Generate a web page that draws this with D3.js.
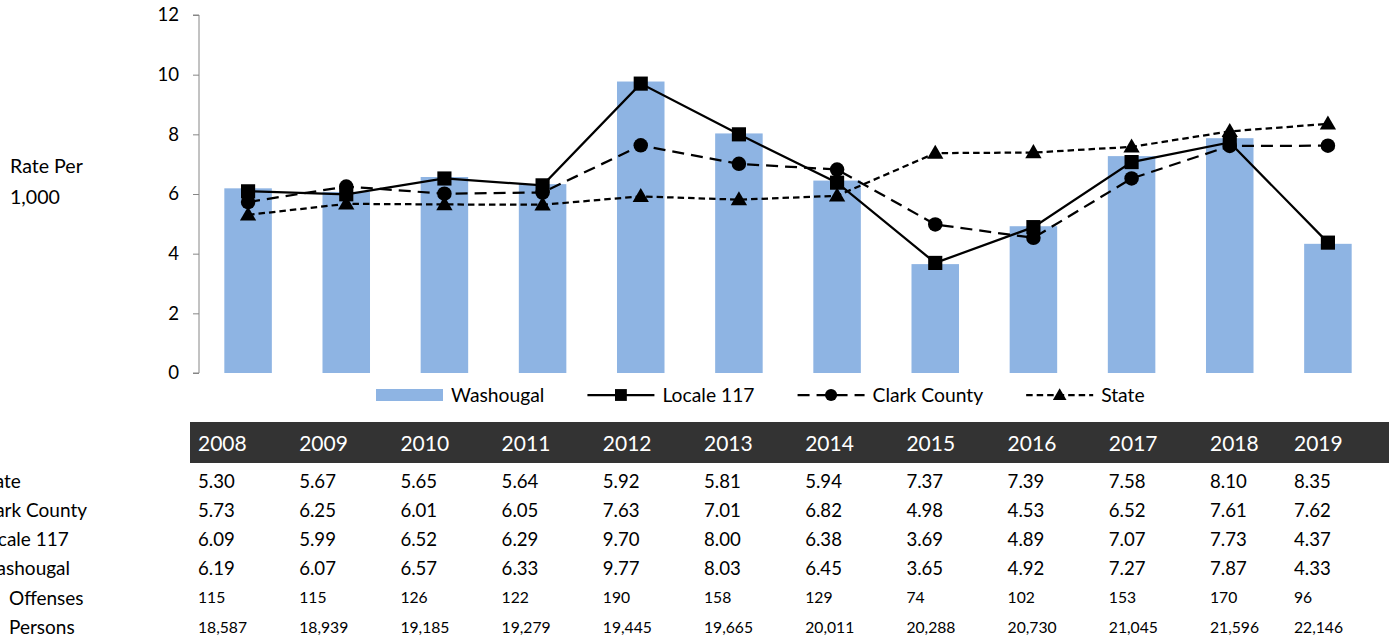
<!DOCTYPE html>
<html>
<head>
<meta charset="utf-8">
<script src="https://cdn.jsdelivr.net/npm/d3@7"></script>
<style>
  html, body { margin: 0; padding: 0; background: #fff; }
  svg { display: block; font-family: Lato, "Open Sans", sans-serif; }
</style>
</head>
<body>
<svg id="chart" width="1395" height="641"></svg>
<script>
// Rates per 1,000 persons, 2008-2019
const years = ["2008","2009","2010","2011","2012","2013","2014","2015","2016","2017","2018","2019"];
const washougal = [6.19, 6.07, 6.57, 6.33, 9.77, 8.03, 6.45, 3.65, 4.92, 7.27, 7.87, 4.33];
const locale117 = [6.09, 5.99, 6.52, 6.29, 9.70, 8.00, 6.38, 3.69, 4.89, 7.07, 7.73, 4.37];
const clarkCounty = [5.73, 6.25, 6.01, 6.05, 7.63, 7.01, 6.82, 4.98, 4.53, 6.52, 7.61, 7.62];
const state = [5.30, 5.67, 5.65, 5.64, 5.92, 5.81, 5.94, 7.37, 7.39, 7.58, 8.10, 8.35];
const offenses = [115, 115, 126, 122, 190, 158, 129, 74, 102, 153, 170, 96];
const persons = [18587, 18939, 19185, 19279, 19445, 19665, 20011, 20288, 20730, 21045, 21596, 22146];
const yTicks = [0, 2, 4, 6, 8, 10, 12];

const svg = d3.select("#chart");
const BAR = "#8eb4e3";
const INK = "#000";

const x = d3.scaleBand().domain(years).range([199, 1377]).paddingInner(0.516).paddingOuter(0.258);
const y = d3.scaleLinear().domain([0, 12]).range([373, 15]);

// value axis
const yAxis = svg.append("g")
  .attr("transform", "translate(199,0)")
  .call(d3.axisLeft(y).tickValues(yTicks).tickSize(6).tickPadding(14).tickFormat(d3.format("d")));
yAxis.select(".domain").attr("stroke", "#868686").attr("d", `M-6,${y(12)}H0V${y(0)}H-6`);
yAxis.selectAll(".tick line").attr("stroke", "#868686");
yAxis.selectAll(".tick text").attr("font-size", 18.6).attr("fill", "#000").attr("font-family", "Lato");

// axis title
const title = svg.append("text").attr("x", 10).attr("font-size", 19.6).attr("fill", "#000");
title.append("tspan").attr("x", 10).attr("y", 173).text("Rate Per");
title.append("tspan").attr("x", 10).attr("y", 204).text("1,000");

// Washougal bars
svg.append("g").selectAll("rect").data(washougal).join("rect")
  .attr("x", (d, i) => x(years[i]))
  .attr("y", d => y(d))
  .attr("width", x.bandwidth())
  .attr("height", d => y(0) - y(d))
  .attr("fill", BAR);

// line series
const series = [
  { name: "Locale 117", values: locale117, dash: null, marker: d3.symbolSquare, size: 200 },
  { name: "Clark County", values: clarkCounty, dash: "12,7", marker: d3.symbolCircle, size: 165 },
  { name: "State", values: state, dash: "6.5,4", marker: d3.symbolTriangle, size: 115 }
];
const line = d3.line().x((d, i) => x(years[i]) + x.bandwidth() / 2).y(d => y(d));

series.forEach(s => {
  const g = svg.append("g");
  g.append("path").datum(s.values)
    .attr("d", line)
    .attr("fill", "none")
    .attr("stroke", INK)
    .attr("stroke-width", 2.25)
    .attr("stroke-dasharray", s.dash);
  g.selectAll("path.m").data(s.values).join("path").attr("class", "m")
    .attr("transform", (d, i) => `translate(${x(years[i]) + x.bandwidth() / 2},${y(d) + (s.marker === d3.symbolTriangle ? 1 : 0)})`)
    .attr("d", d3.symbol(s.marker, s.size))
    .attr("fill", INK);
});

// legend
const legend = svg.append("g");
let lx = 376;
const ly = 395;
const legendItems = [{ name: "Washougal", bar: true }].concat(series);
legendItems.forEach(it => {
  const g = legend.append("g");
  if (it.bar) {
    g.append("rect").attr("x", lx).attr("y", ly - 6).attr("width", 67).attr("height", 12).attr("fill", BAR);
  } else {
    g.append("line").attr("x1", lx).attr("x2", lx + 67).attr("y1", ly).attr("y2", ly)
      .attr("stroke", INK).attr("stroke-width", 2.25)
      .attr("stroke-dasharray", it.dash);
    g.append("path").attr("transform", `translate(${lx + 33.5},${ly + (it.marker === d3.symbolTriangle ? 1 : 0)})`)
      .attr("d", d3.symbol(it.marker, it.size * 0.7)).attr("fill", INK);
  }
  const t = g.append("text").attr("x", lx + 75).attr("y", ly + 7).attr("font-size", 19.3).attr("fill", "#000").text(it.name);
  lx += 75 + t.node().getComputedTextLength() + 43;
});

// data table
const colX = i => (i < 11 ? 198 + 101.2 * i : 1294);
svg.append("rect").attr("x", 190).attr("y", 422).attr("width", 1199).attr("height", 41).attr("fill", "#333333");
svg.append("g").selectAll("text").data(years).join("text")
  .attr("x", (d, i) => colX(i)).attr("y", 451)
  .attr("font-size", 21).attr("fill", "#fff").text(d => d);

const f2 = d3.format(".2f");
const fc = d3.format(",");
const rows = [
  { label: "State", values: state, fmt: f2, lx: -22, size: 18.6 },
  { label: "Clark County", values: clarkCounty, fmt: f2, lx: -22, size: 18.6 },
  { label: "Locale 117", values: locale117, fmt: f2, lx: -22, size: 18.6 },
  { label: "Washougal", values: washougal, fmt: f2, lx: -22, size: 18.6 },
  { label: "Offenses", values: offenses, fmt: d3.format("d"), lx: 9, size: 15.7 },
  { label: "Persons", values: persons, fmt: fc, lx: 9, size: 15.7 }
];
rows.forEach((r, ri) => {
  const cy = 481 + ri * 29.2;
  const g = svg.append("g");
  g.append("text").attr("x", r.lx).attr("y", cy).attr("dy", "0.36em")
    .attr("font-size", 19).attr("fill", "#000").text(r.label);
  g.selectAll("text.v").data(r.values).join("text").attr("class", "v")
    .attr("x", (d, i) => colX(i)).attr("y", cy).attr("dy", "0.36em")
    .attr("font-size", r.size).attr("fill", "#000").text(d => r.fmt(d));
});
</script>
</body>
</html>
